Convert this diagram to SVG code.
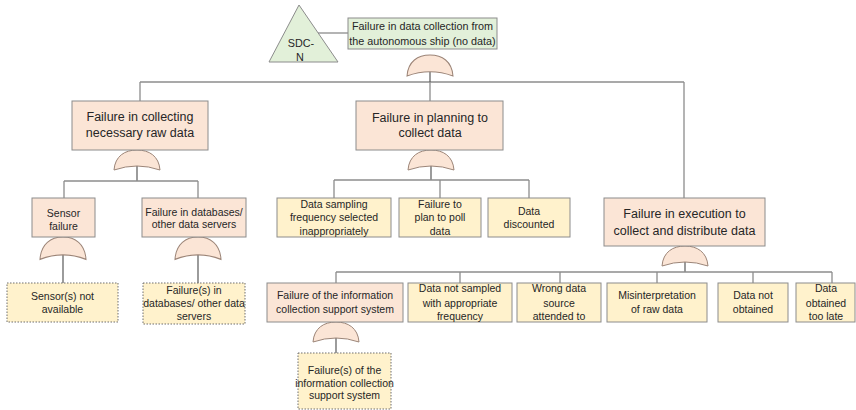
<svg xmlns="http://www.w3.org/2000/svg" width="856" height="410" viewBox="0 0 856 410">
<defs>
<style>
.bg{fill:#ffffff}
.pink{fill:#FBE5D6;stroke:#8c8c8c;stroke-width:1}
.yel{fill:#FFF2CC;stroke:#8c8c8c;stroke-width:1}
.dot{fill:#FFF2CC;stroke:#6e6e6e;stroke-width:1;stroke-dasharray:1.5,1.5}
.grn{fill:#E2F0D9;stroke:#8c8c8c;stroke-width:1}
.gate{fill:#FBE5D6;stroke:#9c8578;stroke-width:1}
.ln{fill:none;stroke:#8c8c8c;stroke-width:1.3}
.stem{fill:none;stroke:#595959;stroke-width:1.2}
text{font-family:"Liberation Sans",Arial,sans-serif;fill:#262626;text-anchor:middle}
.s{font-size:10.5px}
.b{font-size:12.5px}
.t{font-size:10.8px}
</style>
<path id="or" d="M -23,20 C -22,6 -12,0 0,0 C 12,0 22,6 23,20 Q 0,12 -23,20 Z"/>
</defs>
<rect class="bg" x="0" y="0" width="856" height="410"/>

<g id="connectors">
<line class="ln" x1="318" y1="33" x2="348" y2="33"/>
<line class="ln" x1="140" y1="82" x2="684" y2="82"/>
<line class="ln" x1="140" y1="82" x2="140" y2="101"/>
<line class="stem" x1="430" y1="72" x2="430" y2="82"/>
<line class="ln" x1="430" y1="82" x2="430" y2="101"/>
<line class="ln" x1="684" y1="82" x2="684" y2="198"/>
<line class="stem" x1="137" y1="166" x2="137" y2="181"/>
<line class="ln" x1="64" y1="181" x2="198" y2="181"/>
<line class="ln" x1="64" y1="181" x2="64" y2="198"/>
<line class="ln" x1="198" y1="181" x2="198" y2="198"/>
<line class="stem" x1="431" y1="166" x2="431" y2="180"/>
<line class="ln" x1="334" y1="180" x2="529" y2="180"/>
<line class="ln" x1="334" y1="180" x2="334" y2="198"/>
<line class="ln" x1="440" y1="180" x2="440" y2="198"/>
<line class="ln" x1="529" y1="180" x2="529" y2="198"/>
<line class="stem" x1="63" y1="255" x2="63" y2="283"/>
<line class="stem" x1="198" y1="255" x2="198" y2="283"/>
<line class="stem" x1="685" y1="262" x2="685" y2="272"/>
<line class="ln" x1="336" y1="272" x2="832" y2="272"/>
<line class="ln" x1="336" y1="272" x2="336" y2="283"/>
<line class="ln" x1="460" y1="272" x2="460" y2="283"/>
<line class="ln" x1="560" y1="272" x2="560" y2="283"/>
<line class="ln" x1="657" y1="272" x2="657" y2="283"/>
<line class="ln" x1="753" y1="272" x2="753" y2="283"/>
<line class="ln" x1="832" y1="272" x2="832" y2="283"/>
<line class="stem" x1="336" y1="338" x2="336" y2="353"/>
</g>

<g id="gates">
<use href="#or" class="gate" transform="translate(430,55) scale(1,1.05)"/>
<use href="#or" class="gate" transform="translate(137,150)"/>
<use href="#or" class="gate" transform="translate(431,150)"/>
<use href="#or" class="gate" transform="translate(63,237) scale(1,1.12)"/>
<use href="#or" class="gate" transform="translate(198,237) scale(1,1.12)"/>
<use href="#or" class="gate" transform="translate(685,246)"/>
<use href="#or" class="gate" transform="translate(336,322)"/>
</g>

<g id="sdc-n">
<polygon class="grn" points="299,5 269,62 338,62"/>
<text class="t" x="301" y="47">SDC-</text>
<text class="t" x="300" y="61">N</text>
</g>

<g id="top">
<rect class="grn" x="348" y="18" width="149" height="31"/>
<text class="t" x="422.5" y="30">Failure in data collection from</text>
<text class="t" x="422.5" y="45">the autonomous ship (no data)</text>
</g>

<g id="collecting">
<rect class="pink" x="72" y="101" width="136" height="49"/>
<text class="b" x="140" y="121">Failure in collecting</text>
<text class="b" x="140" y="137">necessary raw data</text>
</g>

<g id="planning">
<rect class="pink" x="356" y="101" width="147" height="49"/>
<text class="b" x="430" y="122">Failure in planning to</text>
<text class="b" x="430" y="137">collect data</text>
</g>

<g id="execution">
<rect class="pink" x="604" y="198" width="161" height="48"/>
<text class="b" x="684.5" y="218">Failure in execution to</text>
<text class="b" x="684.5" y="235">collect and distribute data</text>
</g>

<g id="sensor-failure">
<rect class="pink" x="32" y="198" width="63" height="39"/>
<text class="s" x="63.5" y="217">Sensor</text>
<text class="s" x="63.5" y="230">failure</text>
</g>

<g id="db-failure">
<rect class="pink" x="142" y="198" width="104" height="39"/>
<text class="s" x="194" y="216">Failure in databases/</text>
<text class="s" x="194" y="228">other data servers</text>
</g>

<g id="sensor-na">
<rect class="dot" x="7" y="283" width="111" height="39"/>
<text class="s" x="62.5" y="300">Sensor(s) not</text>
<text class="s" x="62.5" y="313">available</text>
</g>

<g id="db-failures">
<rect class="dot" x="143" y="283" width="102" height="41"/>
<text class="s" x="194" y="294">Failure(s) in</text>
<text class="s" x="194" y="307">databases/ other data</text>
<text class="s" x="194" y="320">servers</text>
</g>

<g id="sampling">
<rect class="yel" x="277" y="198" width="114" height="39"/>
<text class="s" x="334" y="208">Data sampling</text>
<text class="s" x="334" y="221">frequency selected</text>
<text class="s" x="334" y="235">inappropriately</text>
</g>

<g id="poll">
<rect class="yel" x="399" y="198" width="82" height="39"/>
<text class="s" x="440" y="208">Failure to</text>
<text class="s" x="440" y="221">plan to poll</text>
<text class="s" x="440" y="235">data</text>
</g>

<g id="discounted">
<rect class="yel" x="488" y="198" width="82" height="39"/>
<text class="s" x="529" y="215">Data</text>
<text class="s" x="529" y="228">discounted</text>
</g>

<g id="info-support">
<rect class="pink" x="267" y="283" width="136" height="39"/>
<text class="s" x="335" y="299">Failure of the information</text>
<text class="s" x="335" y="313">collection support system</text>
</g>

<g id="not-sampled">
<rect class="yel" x="408" y="283" width="104" height="39"/>
<text class="s" x="460" y="292">Data not sampled</text>
<text class="s" x="460" y="307">with appropriate</text>
<text class="s" x="460" y="320">frequency</text>
</g>

<g id="wrong-source">
<rect class="yel" x="517" y="283" width="84" height="39"/>
<text class="s" x="559" y="292">Wrong data</text>
<text class="s" x="559" y="307">source</text>
<text class="s" x="559" y="320">attended to</text>
</g>

<g id="misinterpretation">
<rect class="yel" x="607" y="283" width="100" height="39"/>
<text class="s" x="657" y="299">Misinterpretation</text>
<text class="s" x="657" y="313">of raw data</text>
</g>

<g id="not-obtained">
<rect class="yel" x="718" y="283" width="70" height="39"/>
<text class="s" x="753" y="299">Data not</text>
<text class="s" x="753" y="313">obtained</text>
</g>

<g id="too-late">
<rect class="yel" x="796" y="283" width="59" height="39"/>
<text class="s" x="826" y="292">Data</text>
<text class="s" x="826" y="307">obtained</text>
<text class="s" x="826" y="320">too late</text>
</g>

<g id="info-failures">
<rect class="dot" x="298" y="353" width="93" height="56"/>
<text class="s" x="344.5" y="374">Failure(s) of the</text>
<text class="s" x="344.5" y="387">information collection</text>
<text class="s" x="344.5" y="399">support system</text>
</g>
</svg>
